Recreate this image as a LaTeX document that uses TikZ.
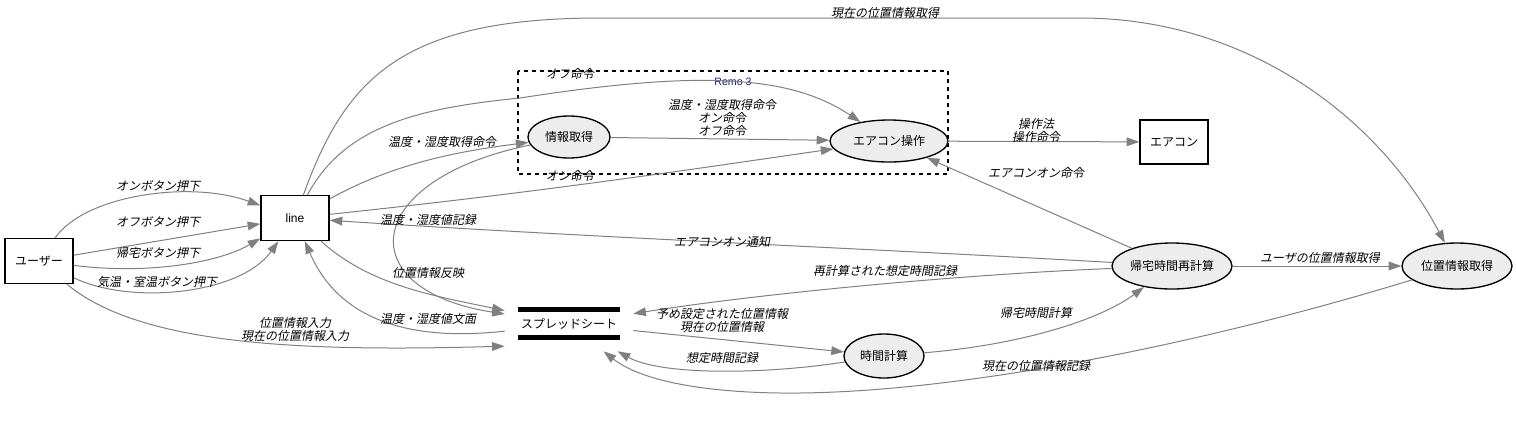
\documentclass[tikz,border=0pt]{standalone}
\usepackage{fontspec}
\usetikzlibrary{arrows.meta,shapes.geometric}
\newfontfamily\jpfont{Noto Sans CJK JP}
\newfontfamily\jpslant[FakeSlant=0.2]{Noto Sans CJK JP}
\newfontfamily\arialfont{Liberation Sans}
\definecolor{edgegray}{RGB}{128,128,128}
\definecolor{remoblue}{RGB}{25,25,112}

\begin{document}
\begin{tikzpicture}[x=0.75pt,y=-0.75pt,
    box/.style={draw,line width=1pt,minimum width=51pt,minimum height=33.75pt,
      inner sep=0pt,font=\jpfont\fontsize{9}{10}\selectfont},
    proc/.style={ellipse,draw,line width=1pt,fill=black!7,inner sep=0pt,
      font=\jpfont\fontsize{9}{10}\selectfont},
    flow/.style={draw=edgegray,line width=0.75pt,-{Triangle[length=9.5pt,width=6.5pt]}},
    lbl/.style={font=\jpslant\fontsize{9}{9.75}\selectfont,inner sep=0pt,align=center}]
      \useasboundingbox (0,0) rectangle (1516,433);

      % Cluster
      \draw[dashed,line width=0.9pt] (518,71) rectangle (948,174);
      \node[font=\arialfont\fontsize{8}{9}\selectfont,text=remoblue,inner sep=0pt]
        (remolbl) at (733,82) {Remo 3};

      % Nodes
      \node[box] (user) at (39,261) {ユーザー};
      \node[box,font=\arialfont\fontsize{9}{10}\selectfont] (line) at (295,218) {line};
      \node[box,minimum height=33pt] (aircon) at (1174,142) {エアコン};
      \node[proc,minimum width=61.5pt,minimum height=31.5pt] (info) at (569,137) {情報取得};
      \node[proc,minimum width=88.5pt,minimum height=31.5pt] (acop) at (889,141) {エアコン操作};
      \node[proc,minimum width=90pt,minimum height=34.5pt] (recalc) at (1172,266) {帰宅時間再計算};
      \node[proc,minimum width=82.5pt,minimum height=34.5pt] (locget) at (1457,266) {位置情報取得};
      \node[proc,minimum width=60pt,minimum height=33pt] (timecalc) at (884,356) {時間計算};
      \node[font=\jpfont\fontsize{9}{10}\selectfont,minimum width=96pt,minimum height=40.5pt,
        inner sep=0pt] (sheet) at (569,324) {スプレッドシート};
      \draw[line width=3.75pt] (518,309) -- (620,309);
      \draw[line width=3.75pt] (518,337) -- (620,337);

      % Arcs (user)
      \draw[flow] (user) .. controls (85,195) and (190,180) .. (line);
      \draw[flow] (user) -- (line);
      \draw[flow] (user) .. controls (150,275) and (220,262) .. (line);
      \draw[flow] (user) .. controls (130,305) and (240,295) .. (line);
      \draw[flow] (user) .. controls (140,345) and (300,352) .. (sheet.199);

      % Arcs (line)
      \draw[flow] (line) .. controls (370,285) and (430,295) .. (sheet);
      \draw[flow] (sheet) .. controls (380,345) and (330,300) .. (line);
      \draw[flow] (line) .. controls (400,160) and (470,150) .. (info);
      \draw[flow] (line) .. controls (345,125) and (420,108) .. (520,98)
        .. controls (700,70) and (790,75) .. (acop);
      \draw[flow] (line) .. controls (560,190) and (720,165) .. (acop);
      \draw[flow] (line) .. controls (345,80) and (400,18) .. (600,18) -- (1080,18)
        .. controls (1250,18) and (1380,120) .. (locget);

      % Arcs (Remo 3)
      \draw[flow] (info) .. controls (360,180) and (350,290) .. (sheet);
      \draw[flow] (info) -- (acop);
      \draw[flow] (acop) -- (aircon);

      % Arcs (right)
      \draw[flow] (recalc) -- (acop);
      \draw[flow] (recalc) .. controls (900,250) and (600,238) .. (line);
      \draw[flow] (recalc) .. controls (950,275) and (750,295) .. (sheet);
      \draw[flow] (recalc) -- (locget);
      \draw[flow] (sheet) -- (timecalc);
      \draw[flow] (timecalc) .. controls (760,375) and (660,375) .. (sheet);
      \draw[flow] (timecalc) .. controls (1020,345) and (1100,320) .. (recalc);
      \draw[flow] (locget) .. controls (1200,345) and (950,395) .. (780,393)
        .. controls (700,392) and (640,380) .. (sheet);

      % Labels
      \node[lbl] (l-on) at (158,186) {オンボタン押下};
      \node[lbl] (l-off) at (158,222) {オフボタン押下};
      \node[lbl] (l-home) at (158,253) {帰宅ボタン押下};
      \node[lbl] (l-temp) at (157,282) {気温・室温ボタン押下};
      \node[lbl] (l-posin) at (295,329) {位置情報入力\\現在の位置情報入力};
      \node[lbl] (l-getcmd) at (442,142) {温度・湿度取得命令};
      \node[lbl] (l-rec) at (428,220) {温度・湿度値記録};
      \node[lbl] (l-posref) at (428,273) {位置情報反映};
      \node[lbl] (l-text) at (428,319) {温度・湿度値文面};
      \node[lbl] (l-offcmd) at (570,74) {オフ命令};
      \node[lbl] (l-oncmd) at (570,176) {オン命令};
      \node[lbl] (l-cmds) at (722,118) {温度・湿度取得命令\\オン命令\\オフ命令};
      \node[lbl] (l-curget) at (885,13) {現在の位置情報取得};
      \node[lbl] (l-op) at (1036,130) {操作法\\操作命令};
      \node[lbl] (l-acon) at (1036,173) {エアコンオン命令};
      \node[lbl] (l-notify) at (722,242) {エアコンオン通知};
      \node[lbl] (l-recalc) at (885,271) {再計算された想定時間記録};
      \node[lbl] (l-preset) at (722,320) {予め設定された位置情報\\現在の位置情報};
      \node[lbl] (l-est) at (722,358) {想定時間記録};
      \node[lbl] (l-homecalc) at (1036,313) {帰宅時間計算};
      \node[lbl] (l-userpos) at (1320,258) {ユーザの位置情報取得};
      \node[lbl] (l-currec) at (1036,366) {現在の位置情報記録};
    \end{tikzpicture}
\end{document}
